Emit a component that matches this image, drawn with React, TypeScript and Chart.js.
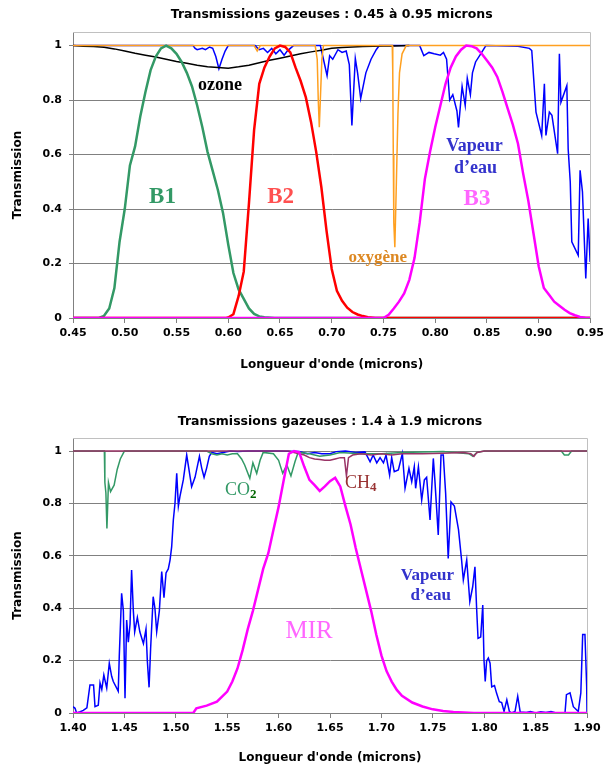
import React, { useEffect, useRef } from "react";
import { Chart, registerables } from "chart.js";

Chart.register(...registerables);

// ---------- TOP CHART DATA (0.45 - 0.95 µm) ----------
const b1Wl = [0.45, 0.475, 0.48, 0.485, 0.49, 0.495, 0.5, 0.505, 0.51, 0.515, 0.52, 0.525, 0.53, 0.535, 0.54, 0.545, 0.55, 0.555, 0.56, 0.565, 0.57, 0.575, 0.58, 0.585, 0.59, 0.595, 0.6, 0.605, 0.61, 0.615, 0.62, 0.625, 0.63, 0.635, 0.645, 0.95];
const b1T = [0, 0, 0.008, 0.035, 0.11, 0.28, 0.4, 0.56, 0.63, 0.74, 0.83, 0.91, 0.96, 0.99, 1.0, 0.99, 0.97, 0.94, 0.9, 0.85, 0.78, 0.7, 0.61, 0.54, 0.47, 0.385, 0.27, 0.165, 0.105, 0.07, 0.035, 0.015, 0.006, 0.003, 0, 0];

const b2Wl = [0.45, 0.598, 0.6, 0.605, 0.61, 0.615, 0.62, 0.625, 0.63, 0.635, 0.64, 0.645, 0.65, 0.655, 0.66, 0.665, 0.67, 0.675, 0.68, 0.685, 0.69, 0.695, 0.7, 0.705, 0.71, 0.715, 0.72, 0.725, 0.73, 0.735, 0.742, 0.95];
const b2T = [0, 0, 0.002, 0.014, 0.08, 0.17, 0.42, 0.69, 0.86, 0.92, 0.96, 0.99, 1.0, 0.995, 0.975, 0.92, 0.87, 0.81, 0.72, 0.61, 0.48, 0.32, 0.18, 0.1, 0.063, 0.038, 0.022, 0.013, 0.007, 0.003, 0, 0];

const b3Wl = [0.45, 0.75, 0.755, 0.76, 0.765, 0.77, 0.775, 0.78, 0.785, 0.79, 0.795, 0.8, 0.805, 0.81, 0.815, 0.82, 0.825, 0.83, 0.835, 0.84, 0.845, 0.85, 0.855, 0.86, 0.865, 0.87, 0.875, 0.88, 0.885, 0.89, 0.895, 0.9, 0.905, 0.91, 0.915, 0.92, 0.925, 0.93, 0.935, 0.94, 0.945, 0.95];
const b3T = [0, 0, 0.012, 0.035, 0.06, 0.09, 0.14, 0.22, 0.35, 0.51, 0.61, 0.7, 0.78, 0.86, 0.92, 0.96, 0.985, 1.0, 0.998, 0.99, 0.97, 0.945, 0.92, 0.885, 0.83, 0.77, 0.71, 0.64, 0.53, 0.43, 0.31, 0.19, 0.11, 0.085, 0.06, 0.045, 0.03, 0.018, 0.01, 0.004, 0.001, 0];

const ozoneWl = [0.45, 0.46, 0.47, 0.48, 0.49, 0.5, 0.51, 0.52, 0.53, 0.54, 0.55, 0.56, 0.57, 0.58, 0.59, 0.6, 0.61, 0.62, 0.63, 0.64, 0.65, 0.66, 0.67, 0.68, 0.69, 0.7, 0.71, 0.72, 0.73, 0.74, 0.75, 0.76, 0.775];
const ozoneT = [1.0, 0.998, 0.997, 0.994, 0.988, 0.98, 0.972, 0.965, 0.958, 0.95, 0.942, 0.935, 0.928, 0.922, 0.92, 0.917, 0.922, 0.928, 0.937, 0.946, 0.954, 0.962, 0.97, 0.977, 0.983, 0.99, 0.993, 0.995, 0.997, 0.998, 0.999, 0.999, 1.0];

const oxyWl = [0.45, 0.625, 0.628, 0.631, 0.684, 0.686, 0.687, 0.688, 0.689, 0.6905, 0.692, 0.7585, 0.759, 0.7595, 0.76, 0.761, 0.7625, 0.764, 0.7655, 0.768, 0.772, 0.95];
const oxyT = [1, 1, 0.98, 1, 1, 0.95, 0.8, 0.7, 0.8, 0.95, 1, 1, 0.9, 0.6, 0.35, 0.26, 0.5, 0.75, 0.9, 0.97, 1, 1];

const vapTopWl = [0.45, 0.566, 0.568, 0.57, 0.575, 0.578, 0.582, 0.585, 0.588, 0.591, 0.594, 0.597, 0.6, 0.626, 0.63, 0.634, 0.638, 0.642, 0.646, 0.65, 0.654, 0.657, 0.66, 0.663, 0.689, 0.692, 0.6955, 0.698, 0.701, 0.706, 0.71, 0.714, 0.717, 0.7195, 0.7228, 0.725, 0.728, 0.733, 0.738, 0.743, 0.746, 0.785, 0.789, 0.794, 0.799, 0.805, 0.808, 0.811, 0.814, 0.817, 0.821, 0.8225, 0.826, 0.829, 0.831, 0.834, 0.836, 0.839, 0.844, 0.849, 0.88, 0.891, 0.8933, 0.8974, 0.9029, 0.9055, 0.907, 0.9103, 0.9128, 0.9183, 0.92, 0.9215, 0.9272, 0.9285, 0.9305, 0.932, 0.9382, 0.94, 0.9423, 0.9455, 0.9478, 0.9497];
const vapTopT = [1, 1, 0.99, 0.985, 0.99, 0.985, 0.995, 0.99, 0.96, 0.915, 0.95, 0.98, 1, 1, 0.985, 0.99, 0.975, 0.99, 0.97, 0.985, 0.965, 0.98, 0.99, 1, 1, 0.95, 0.89, 0.963, 0.95, 0.985, 0.975, 0.98, 0.93, 0.707, 0.953, 0.9, 0.806, 0.9, 0.95, 0.985, 1, 1, 0.963, 0.975, 0.97, 0.965, 0.975, 0.95, 0.8, 0.82, 0.76, 0.7, 0.85, 0.78, 0.88, 0.82, 0.9, 0.94, 0.97, 1, 0.998, 0.99, 0.982, 0.756, 0.67, 0.86, 0.67, 0.756, 0.744, 0.603, 0.97, 0.792, 0.853, 0.62, 0.5, 0.28, 0.23, 0.542, 0.463, 0.145, 0.365, 0.206];

// ---------- BOTTOM CHART DATA (1.4 - 1.9 µm) ----------
const mirWl = [1.4, 1.517, 1.52, 1.53, 1.54, 1.55, 1.555, 1.56, 1.565, 1.57, 1.575, 1.58, 1.585, 1.59, 1.595, 1.6, 1.605, 1.61, 1.615, 1.62, 1.625, 1.63, 1.635, 1.64, 1.645, 1.65, 1.655, 1.66, 1.665, 1.67, 1.675, 1.68, 1.685, 1.69, 1.695, 1.7, 1.705, 1.71, 1.715, 1.72, 1.73, 1.74, 1.75, 1.76, 1.77, 1.78, 1.79, 1.9];
const mirT = [0, 0, 0.018, 0.028, 0.043, 0.082, 0.12, 0.17, 0.24, 0.32, 0.39, 0.47, 0.55, 0.61, 0.7, 0.787, 0.89, 0.99, 1.0, 0.995, 0.94, 0.89, 0.87, 0.848, 0.865, 0.885, 0.898, 0.865, 0.79, 0.72, 0.63, 0.55, 0.47, 0.39, 0.3, 0.22, 0.16, 0.12, 0.088, 0.066, 0.04, 0.025, 0.014, 0.008, 0.004, 0.002, 0, 0];

const co2Wl = [1.4, 1.4305, 1.431, 1.432, 1.433, 1.4345, 1.4365, 1.44, 1.443, 1.446, 1.45, 1.53, 1.535, 1.54, 1.545, 1.55, 1.555, 1.56, 1.564, 1.567, 1.572, 1.575, 1.5787, 1.582, 1.585, 1.595, 1.6, 1.604, 1.608, 1.612, 1.616, 1.619, 1.63, 1.64, 1.65, 1.66, 1.68, 1.7, 1.72, 1.76, 1.785, 1.789, 1.793, 1.8, 1.875, 1.878, 1.882, 1.885, 1.9];
const co2T = [1, 1, 0.88, 0.84, 0.705, 0.88, 0.845, 0.87, 0.93, 0.97, 1, 1, 0.99, 0.985, 0.99, 0.985, 0.99, 0.99, 0.97, 0.947, 0.896, 0.955, 0.915, 0.965, 0.995, 0.99, 0.965, 0.915, 0.947, 0.905, 0.96, 0.995, 0.99, 0.98, 0.985, 0.995, 0.99, 0.99, 0.995, 0.998, 0.99, 0.98, 0.995, 1, 1, 0.985, 0.985, 1, 1];

const ch4Wl = [1.4, 1.61, 1.615, 1.62, 1.625, 1.63, 1.635, 1.64, 1.645, 1.65, 1.655, 1.66, 1.664, 1.666, 1.668, 1.672, 1.68, 1.69, 1.7, 1.71, 1.72, 1.74, 1.76, 1.78, 1.787, 1.79, 1.793, 1.8, 1.9];
const ch4T = [1, 1, 0.995, 0.99, 0.985, 0.975, 0.97, 0.968, 0.965, 0.965, 0.97, 0.975, 0.975, 0.905, 0.975, 0.985, 0.99, 0.985, 0.99, 0.985, 0.99, 0.99, 0.992, 0.995, 0.99, 0.98, 0.995, 1, 1];

const vapBotWl = [1.4, 1.402, 1.4035, 1.407, 1.41, 1.4135, 1.4165, 1.42, 1.4214, 1.4246, 1.4263, 1.428, 1.43, 1.4328, 1.4353, 1.4376, 1.4392, 1.4425, 1.444, 1.445, 1.4473, 1.449, 1.4506, 1.4522, 1.4538, 1.4555, 1.457, 1.4587, 1.46, 1.4626, 1.465, 1.4685, 1.471, 1.4723, 1.474, 1.4755, 1.478, 1.4797, 1.4814, 1.484, 1.4863, 1.4885, 1.4905, 1.4927, 1.4944, 1.496, 1.4976, 1.4992, 1.5009, 1.5025, 1.504, 1.5073, 1.5106, 1.514, 1.5154, 1.5187, 1.523, 1.5252, 1.5275, 1.53, 1.5326, 1.535, 1.54, 1.546, 1.553, 1.56, 1.57, 1.6, 1.62, 1.628, 1.635, 1.642, 1.65, 1.656, 1.665, 1.675, 1.684, 1.689, 1.692, 1.6955, 1.6987, 1.702, 1.7045, 1.708, 1.71, 1.7125, 1.7165, 1.7204, 1.723, 1.7268, 1.7295, 1.732, 1.7333, 1.736, 1.7392, 1.7418, 1.744, 1.7473, 1.7505, 1.752, 1.7553, 1.758, 1.7602, 1.7625, 1.765, 1.7677, 1.771, 1.775, 1.778, 1.7797, 1.783, 1.786, 1.7888, 1.791, 1.7927, 1.794, 1.7966, 1.7986, 1.7998, 1.801, 1.8024, 1.804, 1.8057, 1.8073, 1.81, 1.812, 1.8147, 1.817, 1.8193, 1.822, 1.8245, 1.8267, 1.83, 1.8326, 1.835, 1.841, 1.845, 1.85, 1.855, 1.86, 1.865, 1.87, 1.8786, 1.88, 1.8835, 1.8867, 1.8915, 1.894, 1.8958, 1.898, 1.8997, 1.9];
const vapBotT = [0.024, 0.018, 0, 0.005, 0.01, 0.02, 0.107, 0.107, 0.024, 0.03, 0.115, 0.09, 0.145, 0.095, 0.19, 0.14, 0.12, 0.095, 0.083, 0.215, 0.457, 0.39, 0.056, 0.355, 0.27, 0.34, 0.546, 0.39, 0.31, 0.365, 0.31, 0.265, 0.32, 0.2, 0.098, 0.245, 0.444, 0.4, 0.31, 0.39, 0.54, 0.44, 0.535, 0.55, 0.584, 0.635, 0.737, 0.8, 0.915, 0.79, 0.826, 0.89, 0.985, 0.9, 0.864, 0.9, 0.98, 0.935, 0.9, 0.935, 0.98, 0.995, 0.99, 0.995, 1, 0.998, 1, 1, 0.998, 0.99, 0.995, 0.99, 0.99, 0.998, 1, 0.995, 0.997, 0.959, 0.985, 0.955, 0.975, 0.955, 0.985, 0.908, 0.975, 0.921, 0.928, 0.991, 0.858, 0.934, 0.883, 0.94, 0.858, 0.94, 0.813, 0.89, 0.9, 0.737, 0.972, 0.89, 0.68, 0.985, 0.985, 0.838, 0.59, 0.806, 0.79, 0.7, 0.584, 0.508, 0.584, 0.425, 0.482, 0.558, 0.393, 0.285, 0.29, 0.412, 0.202, 0.12, 0.2, 0.21, 0.19, 0.1, 0.105, 0.076, 0.043, 0.04, 0.006, 0.05, 0.006, 0, 0.006, 0.064, 0.004, 0.002, 0.006, 0, 0.005, 0.002, 0.006, 0, 0, 0.07, 0.077, 0.024, 0.006, 0.077, 0.3, 0.3, 0.1, 0];

// ---------- STYLE ----------
const SANS = "'DejaVu Sans', sans-serif";
const SERIF = "'Liberation Serif', 'Times New Roman', serif";

type Note = {
  text: string;
  x: number;
  y: number;
  color: string;
  font: string;
  align?: CanvasTextAlign;
  sub?: string;
  subFont?: string;
  subColor?: string;
  subDy?: number;
};

const zip = (xs: number[], ys: number[]) => xs.map((x, i) => ({ x, y: ys[i] }));

const overlayPlugin = {
  id: "overlay",
  afterDraw(chart: any, _args: any, opts: any) {
    const { ctx, chartArea, scales } = chart;
    ctx.save();
    ctx.strokeStyle = "#c0c0c0";
    ctx.lineWidth = 1;
    ctx.beginPath();
    ctx.moveTo(chartArea.left, Math.round(chartArea.top) + 0.5);
    ctx.lineTo(Math.round(chartArea.right) + 0.5, Math.round(chartArea.top) + 0.5);
    ctx.lineTo(Math.round(chartArea.right) + 0.5, chartArea.bottom);
    ctx.stroke();

    ctx.fillStyle = "#000";
    ctx.font = `bold 12.5px ${SANS}`;
    ctx.textAlign = "center";
    ctx.textBaseline = "middle";
    ctx.fillText(opts.title, (chartArea.left + chartArea.right) / 2, opts.titleY);

    for (const n of opts.notes as Note[]) {
      const px = scales.x.getPixelForValue(n.x);
      const py = scales.y.getPixelForValue(n.y);
      ctx.font = n.font;
      ctx.fillStyle = n.color;
      ctx.textAlign = n.align || "center";
      ctx.textBaseline = "middle";
      ctx.fillText(n.text, px, py);
      if (n.sub) {
        const w = ctx.measureText(n.text).width;
        const sx = n.align === "left" ? px + w : px + w / 2;
        ctx.font = n.subFont || n.font;
        ctx.fillStyle = n.subColor || n.color;
        ctx.textAlign = "left";
        ctx.fillText(n.sub, sx, py + (n.subDy || 0));
      }
    }
    ctx.restore();
  },
};

function line(data: { x: number; y: number }[], color: string, width: number, order: number) {
  return {
    data,
    borderColor: color,
    backgroundColor: color,
    borderWidth: width,
    pointRadius: 0,
    tension: 0,
    fill: false,
    order,
  };
}

function makeConfig(p: {
  datasets: any[];
  xMin: number;
  xMax: number;
  title: string;
  titleY: number;
  notes: Note[];
  padding: { top: number; right: number; bottom: number; left: number };
  xTitlePad: number;
}): any {
  const tickFont = { family: SANS, size: 11, weight: "bold" as const };
  const titleFont = { family: SANS, size: 12, weight: "bold" as const };
  return {
    type: "line",
    data: { datasets: p.datasets },
    options: {
      responsive: false,
      animation: false,
      layout: { padding: p.padding },
      plugins: {
        legend: { display: false },
        tooltip: { enabled: false },
        title: { display: false },
        overlay: { title: p.title, titleY: p.titleY, notes: p.notes },
      },
      scales: {
        x: {
          type: "linear",
          min: p.xMin,
          max: p.xMax,
          ticks: {
            stepSize: 0.05,
            autoSkip: false,
            maxRotation: 0,
            color: "#000",
            font: tickFont,
            padding: 4,
            callback: (v: any) => Number(v).toFixed(2),
          },
          grid: { drawOnChartArea: false, drawTicks: true, tickLength: 5, color: "#808080" },
          border: { display: true, color: "#808080" },
          title: {
            display: true,
            text: "Longueur d'onde (microns)",
            color: "#000",
            font: titleFont,
            padding: { top: 0, bottom: p.xTitlePad },
          },
          afterFit: (s: any) => {
            s.height = 56;
          },
        },
        y: {
          min: 0,
          max: 1.05,
          ticks: {
            stepSize: 0.2,
            includeBounds: false,
            color: "#000",
            font: tickFont,
            padding: 7,
            callback: (v: any) => String(Math.round(Number(v) * 10) / 10),
          },
          grid: { color: "#808080", tickLength: 4, drawTicks: true },
          border: { display: true, color: "#808080" },
          title: {
            display: true,
            text: "Transmission",
            color: "#000",
            font: titleFont,
            padding: { top: 11, bottom: 0 },
          },
          afterFit: (s: any) => {
            s.width = 73;
          },
        },
      },
    },
    plugins: [overlayPlugin],
  };
}

const topNotes: Note[] = [
  { text: "ozone", x: 0.592, y: 0.855, color: "#000000", font: `bold 18px ${SERIF}` },
  { text: "B1", x: 0.5365, y: 0.443, color: "#339966", font: `bold 23px ${SERIF}` },
  { text: "B2", x: 0.6507, y: 0.443, color: "#FF5050", font: `bold 23px ${SERIF}` },
  { text: "B3", x: 0.8404, y: 0.438, color: "#FF66FF", font: `bold 23px ${SERIF}` },
  { text: "Vapeur", x: 0.838, y: 0.63, color: "#3333CC", font: `bold 18px ${SERIF}` },
  { text: "d\u2019eau", x: 0.839, y: 0.55, color: "#3333CC", font: `bold 18px ${SERIF}` },
  { text: "oxyg\u00e8ne", x: 0.7445, y: 0.222, color: "#DD8822", font: `bold 17px ${SERIF}` },
];

const bottomNotes: Note[] = [
  { text: "CO", x: 1.5479, y: 0.851, color: "#339966", font: `18px ${SERIF}`, align: "left", sub: "2", subFont: `bold 13px ${SERIF}`, subColor: "#006600", subDy: 5 },
  { text: "CH", x: 1.6646, y: 0.878, color: "#993333", font: `18px ${SERIF}`, align: "left", sub: "4", subFont: `bold 13px ${SERIF}`, subColor: "#993333", subDy: 5 },
  { text: "MIR", x: 1.6296, y: 0.31, color: "#FF66FF", font: `25px ${SERIF}` },
  { text: "Vapeur", x: 1.7448, y: 0.525, color: "#3333CC", font: `bold 17px ${SERIF}` },
  { text: "d\u2019eau", x: 1.748, y: 0.448, color: "#3333CC", font: `bold 17px ${SERIF}` },
];

function ChartCanvas({ config, width, height }: { config: () => any; width: number; height: number }) {
  const ref = useRef<HTMLCanvasElement | null>(null);
  useEffect(() => {
    if (!ref.current) return;
    const chart = new Chart(ref.current, config());
    return () => chart.destroy();
  }, []);
  return <canvas ref={ref} width={width} height={height} style={{ display: "block", width, height }} />;
}

export default function App() {
  const topConfig = () =>
    makeConfig({
      datasets: [
        line(zip(vapTopWl, vapTopT), "#0000FF", 1.5, 6),
        line(zip(ozoneWl, ozoneT), "#000000", 1.5, 5),
        line(zip(oxyWl, oxyT), "#FFA020", 1.5, 4),
        line(zip(b1Wl, b1T), "#339966", 2.5, 3),
        line(zip(b2Wl, b2T), "#FF0000", 2.5, 2),
        line(zip(b3Wl, b3T), "#FF00FF", 2.5, 1),
      ],
      xMin: 0.45,
      xMax: 0.95,
      title: "Transmissions gazeuses : 0.45 \u00e0 0.95 microns",
      titleY: 15,
      notes: topNotes,
      padding: { top: 32, right: 15, bottom: 11, left: 0 },
      xTitlePad: 2,
    });
  const bottomConfig = () =>
    makeConfig({
      datasets: [
        line(zip(vapBotWl, vapBotT), "#0000FF", 1.5, 4),
        line(zip(co2Wl, co2T), "#339966", 1.5, 3),
        line(zip(ch4Wl, ch4T), "#993366", 1.5, 2),
        line(zip(mirWl, mirT), "#FF00FF", 2.5, 1),
      ],
      xMin: 1.4,
      xMax: 1.9,
      title: "Transmissions gazeuses : 1.4 \u00e0 1.9 microns",
      titleY: 37,
      notes: bottomNotes,
      padding: { top: 53, right: 21, bottom: 0, left: 0 },
      xTitlePad: 4,
    });
  return (
    <div style={{ position: "absolute", left: 0, top: 0, width: 608, height: 769, background: "#fff" }}>
      <ChartCanvas config={topConfig} width={608} height={385} />
      <ChartCanvas config={bottomConfig} width={608} height={384} />
    </div>
  );
}
